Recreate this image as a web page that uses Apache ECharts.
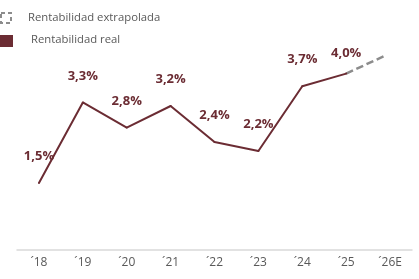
<!DOCTYPE html>
<html><head><meta charset="utf-8">
<script src="https://cdn.jsdelivr.net/npm/echarts@6/dist/echarts.min.js"></script>
<style>html,body{margin:0;padding:0;background:#fff}#c{width:419px;height:279px}</style>
</head><body><div id="c"></div>
<script>
const categories = ['´18','´19','´20','´21','´22','´23','´24','´25','´26E'];
const realValues = [1.49, 3.28, 2.72, 3.2, 2.4, 2.2, 3.64, 3.92, null];
const extrapolatedValues = [null, null, null, null, null, null, null, 3.92, 4.37];
const realLabels = ['1,5%','3,3%','2,8%','3,2%','2,4%','2,2%','3,7%','4,0%'];
const legendNames = ['Rentabilidad extrapolada', 'Rentabilidad real'];

const MAROON = '#6b2c33';
const GRAY_TXT = '#595959';
const realData = realValues.map((v, i) => ({
  value: v,
  label: {distance: i === 7 ? 13 : 19}
}));
const chart = echarts.init(document.getElementById('c'), null, {renderer:'canvas'});
chart.setOption({
  animation: false,
  grid: {left: 17, right: 7, top: 25, bottom: 29},
  xAxis: {
    type: 'category', data: categories, boundaryGap: true,
    axisLine: {lineStyle: {color: '#d9d9d9', width: 1.5}},
    axisTick: {show: false},
    axisLabel: {color: GRAY_TXT, fontFamily: 'Open Sans', fontSize: 12, margin: 7}
  },
  yAxis: {type: 'value', min: 0, max: 5, show: false, splitLine: {show: false}},
  series: [
    {
      name: legendNames[0], type: 'line', data: extrapolatedValues, symbol: 'none',
      lineStyle: {color: '#8c8c8c', width: 2.5, type: [7.5, 3.7, 7.5, 3.7, 7.5, 3.7, 7.5, 40]}, z: 1
    },
    {
      name: legendNames[1], type: 'line', data: realData,
      symbol: 'circle', symbolSize: 2, showSymbol: true,
      itemStyle: {color: MAROON},
      lineStyle: {color: MAROON, width: 2}, z: 2,
      label: {
        show: true, position: 'top', distance: 19,
        formatter: p => realLabels[p.dataIndex] || '',
        color: MAROON, fontFamily: 'Open Sans', fontWeight: 'bold', fontSize: 13
      }
    }
  ],
  graphic: [
    {type: 'rect', shape: {x: 1, y: 13, width: 10, height: 10},
     style: {fill: 'none', stroke: '#8c8c8c', lineWidth: 2, lineDash: [4, 3]}},
    {type: 'text', x: 28, y: 18, style: {text: legendNames[0], fill: GRAY_TXT, font: '11.3px "Open Sans"', textVerticalAlign: 'middle'}},
    {type: 'rect', shape: {x: 0, y: 35, width: 13, height: 12}, style: {fill: MAROON}},
    {type: 'text', x: 31, y: 40, style: {text: legendNames[1], fill: GRAY_TXT, font: '11.3px "Open Sans"', textVerticalAlign: 'middle'}}
  ]
});
</script></body></html>
